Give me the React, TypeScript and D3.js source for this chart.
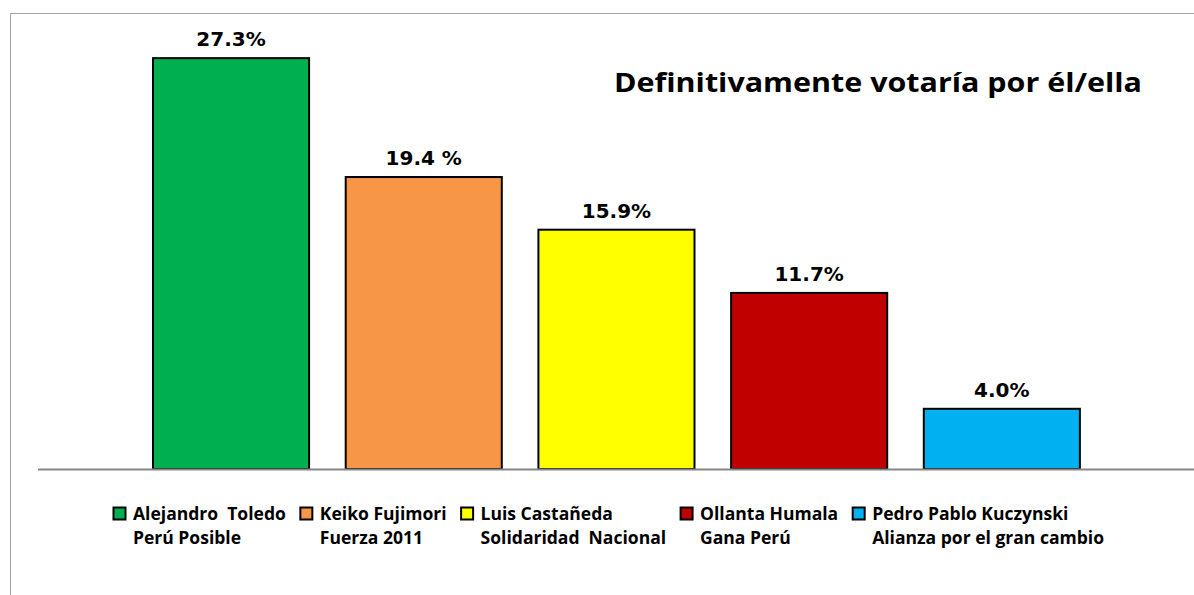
import React, { useRef, useEffect } from 'react';
import * as d3 from 'd3';

// candidates, in order of the bars
const candidates = [
    'Alejandro Toledo',
    'Keiko Fujimori',
    'Luis Castañeda',
    'Ollanta Humala',
    'Pedro Pablo Kuczynski'
];
const values = [27.3, 19.4, 15.9, 11.7, 4.0];
const valueLabels = ['27.3%', '19.4 %', '15.9%', '11.7%', '4.0%'];
// legend lines (name / party)
const legendLine1 = ['Alejandro  Toledo', 'Keiko Fujimori', 'Luis Castañeda', 'Ollanta Humala', 'Pedro Pablo Kuczynski'];
const legendLine2 = ['Perú Posible', 'Fuerza 2011', 'Solidaridad  Nacional', 'Gana Perú', 'Alianza por el gran cambio'];
const colors = ['#00B050', '#F79646', '#FFFF00', '#C00000', '#00B0F0'];
const title = 'Definitivamente votaría por él/ella';

const W = 1194;
const H = 595;

const App = () => {
    const ref = useRef<SVGSVGElement>(null);

    useEffect(() => {
        document.body.style.margin = '0';
        const svg = d3.select(ref.current);
        svg.selectAll('*').remove();

        const baseY = 469;
        const fontCss = '"Open Sans", Lato, sans-serif';

        const x = d3.scaleBand<string>()
            .domain(candidates)
            .range([134.7, 1098.2])
            .paddingInner(0.19)
            .paddingOuter(0.095);

        const y = d3.scaleLinear()
            .domain([0, 30])
            .range([baseY, baseY - 30 * 15.05]);

        // chart area border (runs off the right and bottom of the picture)
        svg.append('rect')
            .attr('x', 10.5).attr('y', 13.5)
            .attr('width', 1300).attr('height', 700)
            .attr('fill', 'none')
            .attr('stroke', '#a6a6a6')
            .attr('stroke-width', 1);

        // bars
        svg.append('g')
            .selectAll('rect')
            .data(values)
            .enter().append('rect')
            .attr('x', (d, i) => x(candidates[i]) as number)
            .attr('y', d => y(d))
            .attr('width', x.bandwidth())
            .attr('height', d => y(0) - y(d))
            .attr('fill', (d, i) => colors[i])
            .attr('stroke', '#000')
            .attr('stroke-width', 2);

        // category axis line
        svg.append('line')
            .attr('x1', 38).attr('x2', W)
            .attr('y1', baseY + 0.5).attr('y2', baseY + 0.5)
            .attr('stroke', '#868686')
            .attr('stroke-width', 2);

        // value labels above the bars
        svg.append('g')
            .selectAll('text')
            .data(values)
            .enter().append('text')
            .attr('x', (d, i) => (x(candidates[i]) as number) + x.bandwidth() / 2)
            .attr('y', d => y(d) - 12)
            .attr('text-anchor', 'middle')
            .style('font-family', '"DejaVu Sans", Verdana, sans-serif')
            .style('font-weight', 'bold')
            .style('font-size', '20px')
            .style('white-space', 'pre')
            .attr('fill', '#000')
            .text((d, i) => valueLabels[i]);

        // title
        svg.append('text')
            .attr('x', 614)
            .attr('y', 92)
            .attr('textLength', 528)
            .attr('lengthAdjust', 'spacingAndGlyphs')
            .style('font-family', fontCss)
            .style('font-weight', 'bold')
            .style('font-size', '27px')
            .attr('fill', '#000')
            .text(title);

        // legend: entries laid out by measured text width, like Excel does
        const legend = svg.append('g');
        const items = candidates.map((c, i) => {
            const g = legend.append('g');
            const t1 = g.append('text').attr('y', 520).text(legendLine1[i]);
            const t2 = g.append('text').attr('y', 544).text(legendLine2[i]);
            g.selectAll('text')
                .style('font-family', fontCss)
                .style('font-weight', 'bold')
                .style('font-size', '18px')
                .style('white-space', 'pre')
                .attr('fill', '#000');
            const w1 = (t1.node() as SVGTextElement).getComputedTextLength();
            const w2 = (t2.node() as SVGTextElement).getComputedTextLength();
            return { g, t1, t2, w1, w2 };
        });

        const square = 13;
        const textGap = 7;
        const entryGap = 14;
        const targetLeft = 113;
        const targetRight = 1104;
        const natural = d3.sum(items, d => Math.max(d.w1, d.w2));
        const fixed = items.length * (square + textGap) + (items.length - 1) * entryGap;
        const stretch = (targetRight - targetLeft - fixed) / natural;

        let cursor = targetLeft;
        items.forEach((it, i) => {
            it.g.append('rect')
                .attr('x', cursor + 0.5)
                .attr('y', 507.5)
                .attr('width', square - 1)
                .attr('height', square - 1)
                .attr('fill', colors[i])
                .attr('stroke', '#000')
                .attr('stroke-width', 2);
            const tx = cursor + square + textGap;
            it.t1.attr('x', tx).attr('textLength', it.w1 * stretch).attr('lengthAdjust', 'spacingAndGlyphs');
            it.t2.attr('x', tx).attr('textLength', it.w2 * stretch).attr('lengthAdjust', 'spacingAndGlyphs');
            cursor = tx + Math.max(it.w1, it.w2) * stretch + entryGap;
        });
    }, []);

    return (
        <svg ref={ref} width={W} height={H} style={{ display: 'block', background: '#fff' }}></svg>
    );
};

export default App;
